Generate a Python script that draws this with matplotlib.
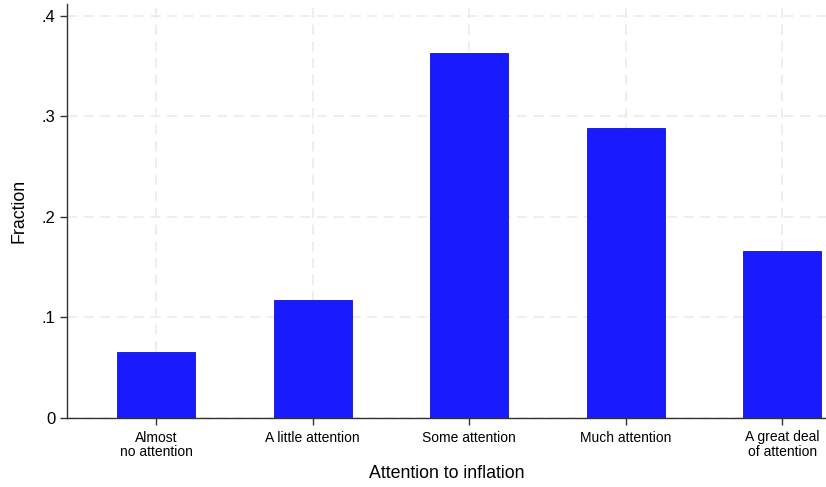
import numpy as np
import matplotlib.pyplot as plt

plt.rcParams['font.family'] = ['Liberation Sans', 'DejaVu Sans']

# ---------------- Data ----------------
categories = ["Almost\nno attention", "A little attention", "Some attention",
              "Much attention", "A great deal\nof attention"]
fractions = [0.066, 0.117, 0.363, 0.288, 0.166]
yticks = [0, 0.1, 0.2, 0.3, 0.4]
ytick_labels = ["0", ".1", ".2", ".3", ".4"]

# ---------------- Plot ----------------
fig = plt.figure(figsize=(8.26, 4.87), dpi=100)
ax = fig.add_axes([67/826, 1-418/487, (826-67)/826, (418-4)/487])

x = np.arange(1, len(categories)+1)
ax.bar(x, fractions, width=0.5, color='#1a1aff', edgecolor='#1010d0', lw=0.6, zorder=3)

ax.set_xlim(0.43, 5.28)
ax.set_ylim(0, 0.4115)
ax.set_xticks(x)
ax.set_xticklabels(categories, fontsize=10, linespacing=1.0)
ax.set_yticks(yticks)
ax.set_yticklabels(ytick_labels, fontsize=12)

ax.grid(True, color='#ebebeb', ls=(0, (6, 4)), lw=1.2, zorder=0)
for s in ['top', 'right']:
    ax.spines[s].set_visible(False)
for s in ['left', 'bottom']:
    ax.spines[s].set_color('#333333')
    ax.spines[s].set_linewidth(1.0)
ax.tick_params(axis='both', direction='out', length=5, color='#333333', width=1)
ax.tick_params(axis='x', pad=4)

ax.set_xlabel("Attention to inflation", fontsize=12.8, labelpad=5)
ax.set_ylabel("Fraction", fontsize=12.8, labelpad=10)

fig.savefig("out.png", dpi=100)
